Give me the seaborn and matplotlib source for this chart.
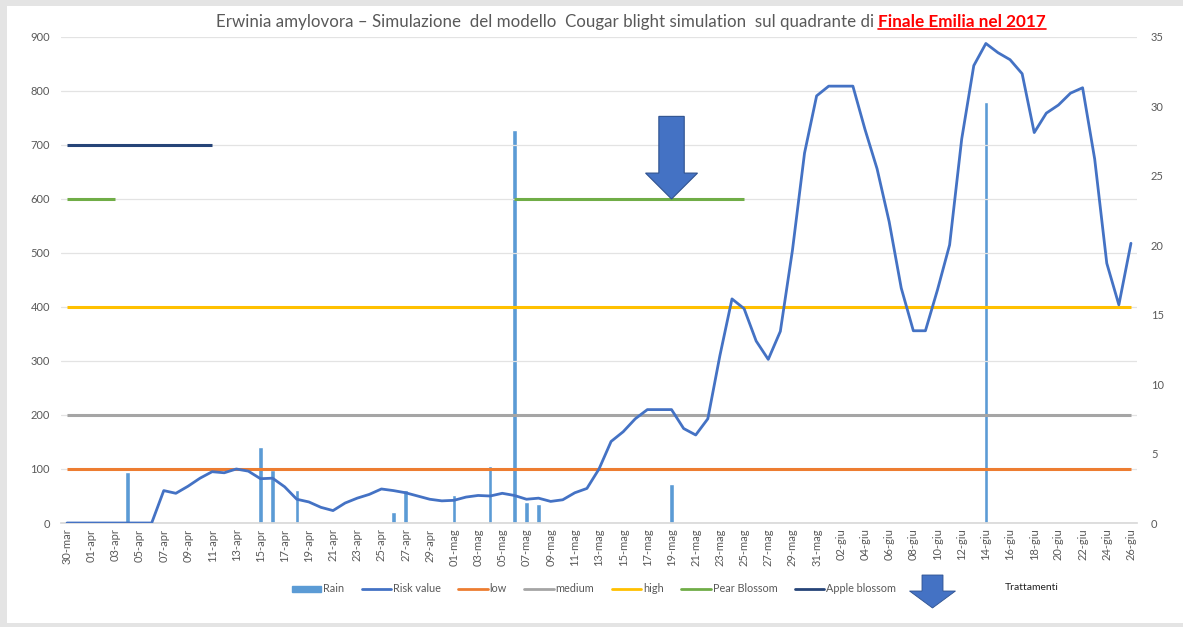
import numpy as np
import pandas as pd
import matplotlib
matplotlib.use('Agg')
import matplotlib.pyplot as plt
import matplotlib.patches as mpatches
from matplotlib.lines import Line2D
import seaborn as sns

# --- data ---
start_date = '2017-03-30'
end_date = '2017-06-26'
month_it = {3: 'mar', 4: 'apr', 5: 'mag', 6: 'giu'}

risk_value = [0, 0, 0, 0, 0, 0, 0, 0, 60, 55,
              68, 83, 95, 93, 100, 96, 82, 83, 67, 44,
              39, 29, 23, 37, 46, 53, 63, 60, 56, 50,
              44, 41, 42, 48, 51, 50, 55, 51, 44, 46,
              40, 43, 56, 64, 100, 151, 169, 193, 210, 210,
              210, 175, 163, 193, 310, 415, 397, 337, 303, 355,
              505, 685, 791, 809, 809, 809, 729, 656, 558, 435,
              356, 356, 432, 515, 711, 847, 888, 871, 858, 832,
              723, 759, 774, 796, 806, 674, 481, 404, 518]

rain_dates = ['2017-04-04', '2017-04-15', '2017-04-16', '2017-04-18', '2017-04-26',
              '2017-04-27', '2017-05-01', '2017-05-04', '2017-05-06', '2017-05-07',
              '2017-05-08', '2017-05-19', '2017-06-14']
rain_mm = [3.65, 5.5, 3.85, 2.4, 0.8, 2.4, 2.0, 4.1, 28.3, 1.5, 1.35, 2.8, 30.3]

risk_levels = {'low': 100, 'medium': 200, 'high': 400}
pear_level = 600
pear_periods = [('2017-03-30', '2017-04-03'), ('2017-05-06', '2017-05-25')]
apple_level = 700
apple_periods = [('2017-03-30', '2017-04-11')]
treatment_date = '2017-05-19'
treatment_top, treatment_tip = 753, 600

# colours (Office palette)
C_RAIN = '#5B9BD5'
C_RISK = '#4472C4'
C_LEVEL = {'low': '#ED7D31', 'medium': '#A5A5A5', 'high': '#FFC000'}
C_PEAR = '#70AD47'
C_APPLE = '#264478'
C_TEXT = '#595959'

sns.set_theme(style='white')
plt.rcParams['font.family'] = ['Lato', 'DejaVu Sans']

dates = pd.date_range(start_date, end_date, freq='D')
labels = [f"{d.day:02d}-{month_it[d.month]}" for d in dates]
pos = np.arange(len(dates))
idx = {d.strftime('%Y-%m-%d'): i for i, d in enumerate(dates)}
df = pd.DataFrame({'pos': pos, 'risk': risk_value})

W, H = 1183, 627
fig = plt.figure(figsize=(W / 100, H / 100), dpi=100)
fig.patch.set_facecolor('#e4e4e4')
fig.add_artist(mpatches.Rectangle((7 / W, 1 - 623 / H), 1, (623 - 6) / H,
                                  transform=fig.transFigure, facecolor='white',
                                  edgecolor='none', zorder=-10))

ax = fig.add_axes([61 / W, 1 - 523 / H, (1137 - 61) / W, (523 - 37) / H])
ax2 = ax.twinx()
ax.set_zorder(ax2.get_zorder() + 1)
ax.patch.set_visible(False)

# rain bars on secondary axis
ax2.bar([idx[d] for d in rain_dates], rain_mm, width=0.36, color=C_RAIN, zorder=2)
ax2.set_ylim(0, 35)
ax2.set_yticks(range(0, 36, 5))

# risk line + thresholds on primary axis
sns.lineplot(data=df, x='pos', y='risk', ax=ax, color=C_RISK, lw=2.0, zorder=4)
for name, lvl in risk_levels.items():
    ax.hlines(lvl, pos[0], pos[-1], color=C_LEVEL[name], lw=2.2, zorder=3)
for a, b in pear_periods:
    ax.hlines(pear_level, idx[a], idx[b], color=C_PEAR, lw=2.2, zorder=3)
for a, b in apple_periods:
    ax.hlines(apple_level, idx[a], idx[b], color=C_APPLE, lw=2.2, zorder=3)

# treatment arrow
tx = idx[treatment_date]
ax.add_patch(mpatches.FancyArrow(tx, treatment_top, 0, treatment_tip - treatment_top,
                                 width=2.1, head_width=4.3, head_length=48,
                                 length_includes_head=True, facecolor=C_RISK,
                                 edgecolor='#2F528F', lw=0.8, zorder=6))

ax.set_xlim(-0.5, len(dates) - 0.5)
ax.set_ylim(0, 900)
ax.set_yticks(range(0, 901, 100))
ax.set_xticks(pos[::2])
ax.set_xticklabels(labels[::2], rotation=90)
ax.set_xticks(np.arange(-0.5, len(dates) - 1, 2), minor=True)
ax.grid(axis='y', color='#e3e3e3', lw=0.9)
ax.set_axisbelow(True)
ax.set_xlabel('')
ax.set_ylabel('')

for a in (ax, ax2):
    for s in a.spines.values():
        s.set_visible(False)
ax.spines['bottom'].set_visible(True)
ax.spines['bottom'].set_color('#d9d9d9')

ax.tick_params(axis='x', which='major', length=0, pad=4, labelsize=8, labelcolor=C_TEXT)
ax.tick_params(axis='x', which='minor', length=4, color='#d9d9d9', width=0.8)
ax.tick_params(axis='y', length=0, pad=8, labelsize=8, labelcolor=C_TEXT)
ax2.tick_params(axis='y', length=0, pad=10, labelsize=8, labelcolor=C_TEXT)

# title
renderer = fig.canvas.get_renderer()
t_red = fig.text(878 / W, 1 - 22 / H, 'Finale Emilia nel 2017', ha='left', va='center',
                 fontsize=12.3, fontweight='bold', color='#FF0000')
fig.text(874 / W, 1 - 22 / H, 'Erwinia amylovora \u2013 Simulazione  del modello  Cougar blight simulation  sul quadrante di',
         ha='right', va='center', fontsize=12.2, color=C_TEXT)
bb = t_red.get_window_extent(renderer).transformed(fig.transFigure.inverted())
fig.add_artist(Line2D([bb.x0, bb.x1], [bb.y0 + 0.001, bb.y0 + 0.001], color='#FF0000',
                      lw=1.2, transform=fig.transFigure))

# legend
handles = [mpatches.Patch(color=C_RAIN, label='Rain'),
           Line2D([], [], color=C_RISK, lw=2, label='Risk value')]
handles += [Line2D([], [], color=C_LEVEL[n], lw=2, label=n) for n in risk_levels]
handles += [Line2D([], [], color=C_PEAR, lw=2, label='Pear Blossom'),
            Line2D([], [], color=C_APPLE, lw=2, label='Apple blossom')]
fig.legend(handles=handles, loc='center', bbox_to_anchor=(594 / W, 1 - 589 / H), ncol=7,
           frameon=False, fontsize=7.8, labelcolor=C_TEXT, handlelength=2.7,
           handletextpad=0.2, columnspacing=1.6, handleheight=0.5)
fig.add_artist(mpatches.FancyArrow(932.5 / W, 1 - 575 / H, 0, -33 / H, width=21 / W,
                                   head_width=46 / W, head_length=17 / H,
                                   length_includes_head=True, transform=fig.transFigure,
                                   facecolor=C_RISK, edgecolor='#2F528F', lw=0.6))
fig.text(1005 / W, 1 - 588 / H, 'Trattamenti', ha='left', va='center', fontsize=7.5,
         color='#222222')

fig.savefig('out.png', dpi=100, facecolor=fig.get_facecolor())
